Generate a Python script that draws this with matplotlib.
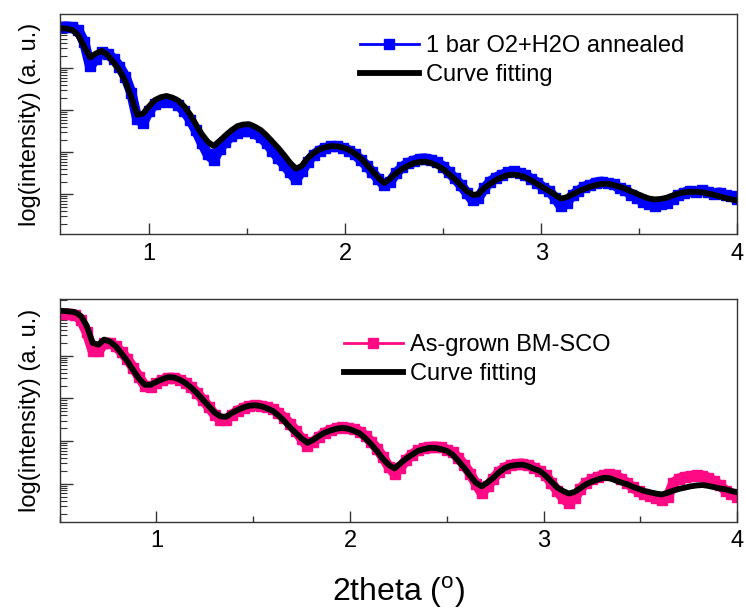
import numpy as np
import matplotlib
matplotlib.use("Agg")
import matplotlib.pyplot as plt
from matplotlib.ticker import MultipleLocator, LogLocator, NullFormatter

plt.rcParams['font.family'] = ['Liberation Sans', 'DejaVu Sans']
plt.rcParams['mathtext.fontset'] = 'custom'
plt.rcParams['mathtext.rm'] = 'Liberation Sans'

# 2theta scan grids (deg)
tth_annealed = np.linspace(0.55, 4.00, 116)
tth_grown = np.linspace(0.52, 4.00, 117)

# log10 intensity, 1 bar O2+H2O annealed
annealed_data = [
    4.98, 4.99, 4.97, 4.90, 4.62, 4.05, 4.22, 4.38, 4.34, 4.22,
    4.04, 3.80, 3.42, 2.80, 2.70, 2.98, 3.14, 3.20, 3.22, 3.19,
    3.12, 2.98, 2.78, 2.52, 2.22, 1.95, 1.82, 2.08, 2.25, 2.38,
    2.46, 2.50, 2.50, 2.45, 2.36, 2.22, 2.04, 1.86, 1.70, 1.52,
    1.36, 1.55, 1.78, 1.94, 2.04, 2.10, 2.14, 2.14, 2.10, 2.04,
    1.95, 1.82, 1.68, 1.52, 1.36, 1.22, 1.30, 1.50, 1.64, 1.74,
    1.80, 1.84, 1.85, 1.82, 1.76, 1.66, 1.52, 1.38, 1.22, 1.04,
    0.86, 0.92, 1.14, 1.30, 1.40, 1.46, 1.52, 1.55, 1.50, 1.45,
    1.36, 1.28, 1.16, 1.08, 0.92, 0.72, 0.80, 0.98, 1.08, 1.18,
    1.22, 1.28, 1.30, 1.26, 1.24, 1.14, 1.10, 0.98, 0.92, 0.82,
    0.78, 0.72, 0.76, 0.80, 0.90, 0.98, 1.04, 1.08, 1.06, 1.10,
    1.06, 1.02, 1.04, 0.98, 0.96, 0.90]
annealed_fit = [
    4.95, 4.94, 4.91, 4.78, 4.51, 4.26, 4.35, 4.41, 4.31, 4.14,
    3.95, 3.69, 3.31, 2.89, 2.92, 3.09, 3.24, 3.31, 3.34, 3.30,
    3.23, 3.09, 2.90, 2.66, 2.43, 2.25, 2.15, 2.27, 2.40, 2.52,
    2.62, 2.66, 2.67, 2.61, 2.53, 2.40, 2.25, 2.10, 1.93, 1.75,
    1.61, 1.68, 1.86, 1.98, 2.07, 2.12, 2.15, 2.14, 2.11, 2.06,
    1.97, 1.86, 1.71, 1.55, 1.39, 1.27, 1.37, 1.50, 1.60, 1.68,
    1.74, 1.77, 1.78, 1.74, 1.68, 1.60, 1.48, 1.36, 1.22, 1.08,
    0.99, 1.00, 1.15, 1.25, 1.34, 1.41, 1.46, 1.47, 1.45, 1.40,
    1.33, 1.25, 1.16, 1.08, 0.99, 0.90, 0.93, 1.00, 1.07, 1.13,
    1.18, 1.22, 1.25, 1.25, 1.22, 1.18, 1.13, 1.07, 1.01, 0.95,
    0.90, 0.88, 0.89, 0.92, 0.97, 1.02, 1.05, 1.06, 1.06, 1.05,
    1.02, 0.99, 0.95, 0.91, 0.88, 0.85]

# log10 intensity, as-grown BM-SCO
grown_data = [
    4.98, 4.98, 4.96, 4.84, 4.55, 4.12, 4.10, 4.30, 4.30, 4.22,
    4.08, 3.92, 3.72, 3.50, 3.30, 3.27, 3.35, 3.43, 3.48, 3.48,
    3.44, 3.37, 3.26, 3.13, 2.97, 2.80, 2.62, 2.50, 2.50, 2.62,
    2.71, 2.78, 2.82, 2.84, 2.83, 2.80, 2.75, 2.66, 2.55, 2.40,
    2.24, 2.05, 1.88, 1.98, 2.10, 2.20, 2.26, 2.30, 2.32, 2.31,
    2.28, 2.22, 2.12, 1.98, 1.82, 1.62, 1.40, 1.24, 1.38, 1.56,
    1.68, 1.78, 1.84, 1.86, 1.87, 1.85, 1.80, 1.74, 1.60, 1.44,
    1.24, 1.00, 0.78, 0.94, 1.12, 1.28, 1.38, 1.44, 1.46, 1.47,
    1.44, 1.38, 1.30, 1.20, 1.02, 0.84, 0.66, 0.55, 0.66, 0.88,
    1.02, 1.10, 1.16, 1.20, 1.22, 1.20, 1.12, 1.02, 0.92, 0.82,
    0.75, 0.72, 0.66, 0.62, 0.68, 1.02, 1.12, 1.16, 1.18, 1.20,
    1.18, 1.14, 1.06, 0.96, 0.84, 0.76, 0.70]
grown_fit = [
    5.05, 5.04, 5.02, 4.93, 4.70, 4.30, 4.26, 4.38, 4.33, 4.22,
    4.05, 3.87, 3.66, 3.46, 3.32, 3.32, 3.39, 3.45, 3.50, 3.49,
    3.44, 3.36, 3.25, 3.12, 2.97, 2.82, 2.67, 2.58, 2.57, 2.66,
    2.73, 2.79, 2.83, 2.84, 2.82, 2.77, 2.71, 2.60, 2.47, 2.32,
    2.19, 2.06, 1.96, 2.03, 2.12, 2.20, 2.25, 2.29, 2.31, 2.29,
    2.24, 2.18, 2.06, 1.92, 1.76, 1.58, 1.44, 1.36, 1.48, 1.59,
    1.68, 1.77, 1.81, 1.84, 1.84, 1.81, 1.77, 1.68, 1.53, 1.37,
    1.19, 1.02, 0.94, 1.03, 1.14, 1.27, 1.37, 1.42, 1.44, 1.45,
    1.41, 1.35, 1.30, 1.19, 1.05, 0.91, 0.83, 0.77, 0.81, 0.90,
    0.99, 1.05, 1.10, 1.14, 1.13, 1.08, 1.03, 0.99, 0.93, 0.88,
    0.83, 0.80, 0.77, 0.75, 0.79, 0.84, 0.88, 0.91, 0.94, 0.96,
    0.97, 0.95, 0.92, 0.89, 0.87, 0.83, 0.80]

panels = [
    (tth_annealed, annealed_data, annealed_fit, '1 bar O2+H2O annealed', '#0000ff',
     (0.545, 4.0), (10**0.05, 10**5.29), [0.080, 0.6178, 0.9083, 0.3594], (0.443, 0.905)),
    (tth_grown, grown_data, grown_fit, 'As-grown BM-SCO', '#ff0a84',
     (0.50, 4.0), (10**0.11, 10**5.33), [0.080, 0.1489, 0.9083, 0.3633], (0.419, 0.842)),
]

fig = plt.figure(figsize=(7.46, 6.13), dpi=100)
for x, data, fit, label, color, xlim, ylim, rect, legpos in panels:
    ax = fig.add_axes(rect)
    y = 10**np.array(data)
    ax.plot(x, y, '-', color=color, lw=7.5, solid_capstyle='butt')
    ax.plot(x, y, '-s', color=color, lw=2, ms=7, label=label)
    ax.plot(x, 10**np.array(fit), '-', color='black', lw=4.2, label='Curve fitting')
    ax.set_yscale('log')
    ax.set_xlim(*xlim)
    ax.set_ylim(*ylim)
    ax.xaxis.set_major_locator(MultipleLocator(1))
    ax.xaxis.set_minor_locator(MultipleLocator(0.5))
    ax.yaxis.set_major_locator(LogLocator(base=10))
    ax.yaxis.set_minor_locator(LogLocator(base=10, subs=np.arange(2, 10)))
    ax.yaxis.set_major_formatter(NullFormatter())
    ax.yaxis.set_minor_formatter(NullFormatter())
    ax.tick_params(which='both', direction='in', top=False, right=False, colors='#333333')
    ax.tick_params(axis='x', which='major', length=8, width=1, labelsize=17, pad=6, labelcolor='black')
    ax.tick_params(axis='x', which='minor', length=4, width=1)
    ax.tick_params(axis='y', which='major', length=9, width=1)
    ax.tick_params(axis='y', which='minor', length=5, width=0.8)
    for s in ax.spines.values():
        s.set_color('#333333')
        s.set_linewidth(1)
    ax.set_ylabel('log(intensity) (a. u.)', fontsize=17, labelpad=10)
    ax.legend(loc='upper left', bbox_to_anchor=legpos, frameon=False, fontsize=17,
              numpoints=1, handlelength=2.5, handletextpad=0.3, labelspacing=0.3,
              borderpad=0, borderaxespad=0)

ax.set_xlabel('2theta ($^\\mathrm{o}$)', fontsize=23, labelpad=16)

fig.savefig('out.png', dpi=100)
